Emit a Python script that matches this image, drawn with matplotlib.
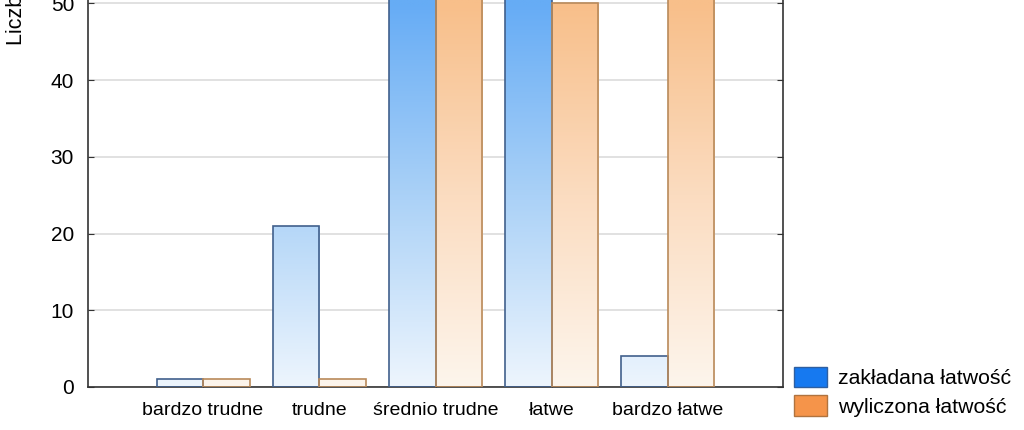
import numpy as np
import matplotlib
matplotlib.use("Agg")
import matplotlib.pyplot as plt
from matplotlib.colors import LinearSegmentedColormap, Normalize
from matplotlib.patches import Patch

plt.rcParams['font.family'] = ['Liberation Sans', 'DejaVu Sans']

categories = ["bardzo trudne", "trudne", "średnio trudne", "łatwe", "bardzo łatwe"]
zakladana = [1, 21, 58, 56, 4]
wyliczona = [1, 1, 60, 50, 57]
series_names = ["zakładana łatwość", "wyliczona łatwość"]
yticks = [0, 10, 20, 30, 40, 50]

fig = plt.figure(figsize=(10.24, 4.30), dpi=100)
ax = fig.add_axes([88/1024, 43/430, (783-88)/1024, 387/430])

x = np.arange(len(categories))
w = 0.40
ytop = 50.43
xlim = (-0.99, 4.99)

ax.yaxis.grid(True, color='#dcdcdc', linewidth=1.2)
ax.set_axisbelow(True)

cmap_b = LinearSegmentedColormap.from_list('b', ['#edf5fd', '#aad1f7', '#66acf5'])
cmap_o = LinearSegmentedColormap.from_list('o', ['#fdf5ec', '#fbdcc0', '#f8bf8a'])
norm = Normalize(0, 50)

bars_b = ax.bar(x - w/2, zakladana, w, facecolor='none', edgecolor='#41608c', linewidth=1.2, zorder=3)
bars_o = ax.bar(x + w/2, wyliczona, w, facecolor='none', edgecolor='#b98a5a', linewidth=1.2, zorder=3)

for bars, cmap in ((bars_b, cmap_b), (bars_o, cmap_o)):
    for p in bars:
        x0 = p.get_x(); x1 = x0 + p.get_width(); h = p.get_height()
        grad = np.linspace(0, h, 200).reshape(-1, 1)
        im = ax.imshow(grad, extent=[x0, x1, 0, h], origin='lower', cmap=cmap, norm=norm,
                       aspect='auto', zorder=2, interpolation='bilinear')
        im.set_clip_path(p)

ax.set_xlim(*xlim)
ax.set_ylim(0, ytop)
ax.set_yticks(yticks)
ax.set_xticks(x)
ax.set_xticklabels(categories, fontsize=14)
ax.tick_params(axis='y', labelsize=15, direction='in', length=4, right=True, pad=10, color='#333333')
ax.tick_params(axis='x', direction='in', length=3, pad=11, color='#333333')
ax.spines['top'].set_visible(False)
for s in ('left', 'right', 'bottom'):
    ax.spines[s].set_color('#333333')
    ax.spines[s].set_linewidth(1.2)

fig.text(6/1024, 1 - 45/430, "Liczba zadań", rotation=90, fontsize=15.5, va='bottom', ha='left')

handles = [Patch(facecolor='#1679f0', edgecolor='#2f5fa0', label=series_names[0]),
           Patch(facecolor='#f5944a', edgecolor='#b0733f', label=series_names[1])]
fig.legend(handles=handles, loc='upper left', bbox_to_anchor=(794/1024, 1 - 367/430), frameon=False,
           fontsize=15.3, handlelength=1.57, handleheight=1.1, handletextpad=0.5, labelspacing=0.32,
           borderpad=0, borderaxespad=0)

fig.savefig("out.png", dpi=100)
